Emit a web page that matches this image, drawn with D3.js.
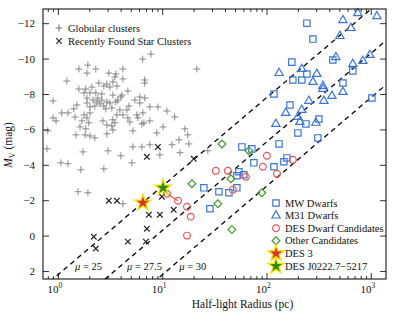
<!DOCTYPE html>
<html>
<head>
<meta charset="utf-8">
<script src="https://cdn.jsdelivr.net/npm/d3@7"></script>
<style>
  body { margin: 0; background: #fff; }
  svg { display: block; }
  text { font-family: "Liberation Serif", "DejaVu Serif", serif; fill: #111; }
</style>
</head>
<body>
<div id="chart"></div>
<script>
// [half-light radius (pc), M_V]
const globularClusters = [
  [6.5, -9.97], [7.8, -10.25], [21.5, -9.41], [1.59, -9.41], [1.94, -9.63], [2.31, -9.41], [1.90, -9.18],
  [1.22, -8.73], [3.08, -9.18], [3.60, -9.13], [4.20, -9.41], [3.52, -8.96], [4.20, -8.85], [6.8, -8.79],
  [6.8, -8.62], [2.47, -8.62], [2.76, -8.45], [3.15, -8.39], [3.68, -8.45], [2.95, -8.56], [3.37, -8.68],
  [1.59, -8.28], [1.85, -8.28], [2.12, -8.39], [1.78, -8.06], [2.03, -8.06], [4.69, -8.17], [4.11, -7.94],
  [3.37, -7.94], [2.31, -8.06], [2.64, -8.0], [2.42, -7.77], [2.17, -7.66], [2.37, -7.55], [2.64, -7.66],
  [2.53, -7.44], [2.76, -7.32], [2.26, -7.32], [2.95, -7.55], [3.15, -7.49], [3.29, -7.21], [2.88, -7.16],
  [1.90, -7.77], [1.90, -7.49], [2.03, -7.27], [0.90, -7.61], [1.52, -7.38], [1.42, -7.16], [1.25, -6.93],
  [1.09, -6.93], [1.46, -6.70], [1.78, -6.82], [2.03, -6.93], [1.90, -6.65], [1.70, -6.48], [1.98, -6.37],
  [0.90, -6.65], [0.96, -6.48], [0.80, -5.92], [1.63, -6.14], [1.49, -5.69], [1.82, -5.69], [2.03, -5.63],
  [2.26, -5.52], [2.70, -6.48], [2.95, -6.25], [3.29, -6.20], [3.52, -6.37], [3.37, -5.97], [2.95, -5.75],
  [3.37, -6.54], [4.20, -6.82], [4.59, -7.10], [4.80, -7.32], [3.93, -7.10], [3.68, -6.82], [3.76, -7.66],
  [4.02, -7.83], [3.60, -7.55], [4.69, -6.65], [4.90, -6.42], [5.72, -6.82], [5.85, -6.65], [6.53, -6.93],
  [6.11, -7.83], [6.82, -7.77], [5.47, -7.66], [6.11, -7.49], [6.68, -6.37], [6.39, -6.31], [7.62, -6.48],
  [7.62, -7.27], [9.10, -7.27], [11.1, -7.04], [13.2, -6.70], [8.89, -5.80], [10.2, -6.14], [16.5, -6.03],
  [17.6, -5.69], [14.5, -5.41], [18.0, -5.18], [12.4, -5.13], [5.24, -5.01], [6.39, -5.01], [7.62, -5.13],
  [9.51, -4.56], [14.8, -4.68], [0.785, -4.90], [1.74, -4.73], [3.02, -4.79], [4.02, -4.51], [5.24, -5.92],
  [27.4, -4.79], [1.07, -4.11], [1.25, -4.06], [1.66, -3.72], [2.76, -3.77], [5.12, -4.11], [1.56, -2.48],
  [1.94, -2.42], [4.20, -1.80], [1.85, -6.03]
];
const recentClusters = [
  [9.10, -5.01], [7.13, -4.45], [20.1, -4.34], [3.08, -1.97], [3.68, -1.97], [9.94, -2.20], [7.45, -1.18],
  [9.51, -1.18], [12.9, -1.46], [7.13, -0.39], [6.98, 0.34], [4.69, 0.34], [2.21, 0.06], [2.31, 0.73]
];
const mwDwarfs = [
  [244, -12.0], [279, -11.10], [175, -9.80], [433, -9.92], [673, -9.30], [541, -8.62], [179, -8.79],
  [218, -8.79], [244, -9.13], [118, -8.0], [168, -7.38], [318, -6.59], [239, -6.31], [200, -5.80],
  [1025, -7.77], [132, -5.18], [311, -5.52], [58.1, -5.01], [72.4, -4.90], [157, -4.39], [147, -4.17],
  [75.7, -4.11], [118, -3.89], [54.4, -3.61], [60.7, -3.44], [52.0, -3.38], [52.0, -2.70], [43.6, -2.42],
  [35.0, -2.48], [25.1, -2.70], [28.7, -1.52]
];
const m31Dwarfs = [
  [752, -12.56], [1145, -12.39], [541, -12.17], [645, -11.72], [506, -11.27], [463, -10.08], [673, -9.69],
  [840, -9.86], [980, -10.20], [132, -9.18], [218, -9.41], [304, -9.13], [279, -8.68], [348, -8.45],
  [348, -8.28], [424, -7.89], [541, -8.11], [255, -7.61], [355, -7.61], [218, -7.10], [153, -6.93],
  [200, -6.70], [209, -6.42], [298, -6.37], [123, -6.31]
];
const desCandidates = [
  [11.1, -2.37], [14.2, -1.97], [17.3, -1.63], [18.8, -1.07], [17.3, 0.0], [32.7, -3.66], [42.6, -3.66],
  [63.5, -3.32], [47.6, -2.59], [92.4, -3.89], [101, -4.51], [126, -3.49], [179, -4.28]
];
const candidateLink = [[11.1, -2.37], [14.2, -1.97]];
const otherCandidates = [
  [37.4, -5.18], [67.8, -4.79], [19.3, -2.93], [45.6, -3.21], [34.2, -1.80], [90.3, -2.42], [46.6, -0.34]
];
const des3 = [6.53, -1.86];
const desJ0222 = [10.2, -2.70];

const muLevels = [25, 27.5, 30];
const muZeroPoint = 22.785; // M_V = mu - zp - 5 log10(r_h)
const yTicks = [-12, -10, -8, -6, -4, -2, 0, 2];

const blue = "#3b76d6", red = "#e8545a", green = "#3f9a2a";

const margin = { top: 9, right: 9, bottom: 33, left: 43 };
const width = 395 - margin.left - margin.right;
const height = 312 - margin.top - margin.bottom;

const svgRoot = d3.select("#chart").append("svg")
  .attr("width", 395).attr("height", 312);
const svg = svgRoot.append("g")
  .attr("transform", `translate(${margin.left},${margin.top})`);

const x = d3.scaleLog().domain([0.72, 1400]).range([0, width]);
const y = d3.scaleLinear().domain([2.45, -12.8]).range([height, 0]);

svgRoot.append("defs").append("clipPath").attr("id", "plot-clip")
  .append("rect").attr("width", width).attr("height", height);

// constant surface brightness lines
const rDomain = x.domain();
muLevels.forEach(mu => {
  const pts = rDomain.map(r => [r, mu - muZeroPoint - 5 * Math.log10(r)]);
  svg.append("path")
    .attr("clip-path", "url(#plot-clip)")
    .attr("d", d3.line().x(d => x(d[0])).y(d => y(d[1]))(pts))
    .attr("fill", "none").attr("stroke", "#000")
    .attr("stroke-width", 1.3).attr("stroke-dasharray", "5,4");
  const rBottom = Math.pow(10, (mu - muZeroPoint - y.domain()[0]) / 5);
  const t = svg.append("text")
    .attr("x", x(rBottom) + 22).attr("y", height - 9)
    .attr("font-size", 10.5);
  t.append("tspan").attr("font-style", "italic").text("μ");
  t.append("tspan").text(` = ${mu}`);
});

const plusPath = "M-3.5,0H3.5M0,-3.5V3.5";
const crossPath = "M-2.8,-2.8L2.8,2.8M-2.8,2.8L2.8,-2.8";

function drawPaths(data, path, color, width, opacity) {
  svg.append("g").selectAll("path").data(data).join("path")
    .attr("transform", d => `translate(${x(d[0])},${y(d[1])})`)
    .attr("d", path).attr("fill", "none")
    .attr("stroke", color).attr("stroke-width", width)
    .attr("stroke-opacity", opacity);
}

function drawSymbols(data, type, size, color, rotate) {
  svg.append("g").selectAll("path").data(data).join("path")
    .attr("transform", d => `translate(${x(d[0])},${y(d[1])})` + (rotate ? ` rotate(${rotate})` : ""))
    .attr("d", d3.symbol().type(type).size(size))
    .attr("fill", "none").attr("stroke", color).attr("stroke-width", 1.2);
}

drawPaths(globularClusters, plusPath, "#777", 1, 0.85);
drawPaths(recentClusters, crossPath, "#222", 1.2, 1);

svg.append("path")
  .attr("d", d3.line().x(d => x(d[0])).y(d => y(d[1]))(candidateLink))
  .attr("stroke", red).attr("stroke-width", 1.2).attr("fill", "none");

drawSymbols(mwDwarfs, d3.symbolSquare, 40, blue);
drawSymbols(m31Dwarfs, d3.symbolTriangle, 30, blue);
drawSymbols(desCandidates, d3.symbolCircle, 36, red);
drawSymbols(otherCandidates, d3.symbolSquare, 30, green, 45);

function drawStar(d, color) {
  svg.append("path")
    .attr("transform", `translate(${x(d[0])},${y(d[1])})`)
    .attr("d", d3.symbol().type(d3.symbolStar).size(80))
    .attr("fill", color).attr("stroke", "#f5e000").attr("stroke-width", 1.3);
}
drawStar(des3, "#d8302a");
drawStar(desJ0222, "#2d8a12");

// axes with inward ticks
const xTickVals = x.ticks().filter(v => v >= x.domain()[0] && v <= x.domain()[1]);
const isMajor = v => Math.abs(Math.log10(v) - Math.round(Math.log10(v))) < 1e-6;

const xBottom = svg.append("g").attr("transform", `translate(0,${height})`)
  .call(d3.axisBottom(x).tickValues(xTickVals).tickFormat(""));
xBottom.selectAll(".tick line").attr("y2", d => isMajor(d) ? -6 : -3);
const xTop = svg.append("g")
  .call(d3.axisTop(x).tickValues(xTickVals).tickFormat(""));
xTop.selectAll(".tick line").attr("y2", d => isMajor(d) ? 6 : 3);

const yLeft = svg.append("g")
  .call(d3.axisLeft(y).tickValues(yTicks).tickSize(-6).tickPadding(8));
const yRight = svg.append("g").attr("transform", `translate(${width},0)`)
  .call(d3.axisRight(y).tickValues(yTicks).tickSize(-6).tickFormat(""));

[xBottom, xTop, yLeft, yRight].forEach(g => {
  g.select(".domain").remove();
  g.selectAll(".tick line").attr("stroke", "#000").attr("stroke-width", 0.8);
});
yLeft.selectAll(".tick text")
  .attr("font-family", "Liberation Serif, serif").attr("font-size", 11).attr("fill", "#111");

xTickVals.filter(isMajor).forEach(v => {
  const t = svg.append("text")
    .attr("x", x(v) - 3).attr("y", height + 14)
    .attr("text-anchor", "middle").attr("font-size", 11);
  t.append("tspan").text("10");
  t.append("tspan").attr("dy", -5).attr("font-size", 7.5).text(Math.round(Math.log10(v)));
});

svg.append("rect").attr("width", width).attr("height", height)
  .attr("fill", "none").attr("stroke", "#000").attr("stroke-width", 1);

// axis labels
const xl = svg.append("text")
  .attr("x", width / 2 + 28).attr("y", height + 29)
  .attr("text-anchor", "middle").attr("font-size", 11.5);
xl.text("Half-light Radius (pc)");

const yl = svg.append("text")
  .attr("transform", "rotate(-90)")
  .attr("x", -136).attr("y", -31)
  .attr("text-anchor", "middle").attr("font-size", 11.5);
yl.append("tspan").attr("font-style", "italic").text("M");
yl.append("tspan").attr("font-size", 8).attr("dy", 3).text("V");
yl.append("tspan").attr("dy", -3).text(" (mag)");

// top-left legend
const legendTop = [
  { label: "Globular clusters", path: plusPath, color: "#777" },
  { label: "Recently Found Star Clusters", path: crossPath, color: "#222" }
];
legendTop.forEach((d, i) => {
  const cy = 19 + i * 13;
  svg.append("path").attr("transform", `translate(16,${cy})`)
    .attr("d", d.path).attr("stroke", d.color).attr("stroke-width", 1.1).attr("fill", "none");
  svg.append("text").attr("x", 25).attr("y", cy + 3.5).attr("font-size", 10.5).text(d.label);
});

// bottom-right legend
const legendBottom = [
  { label: "MW Dwarfs", type: d3.symbolSquare, size: 40, color: blue },
  { label: "M31 Dwarfs", type: d3.symbolTriangle, size: 30, color: blue },
  { label: "DES Dwarf Candidates", type: d3.symbolCircle, size: 36, color: red },
  { label: "Other Candidates", type: d3.symbolSquare, size: 30, color: green, rotate: 45 },
  { label: "DES 3", star: "#d8302a" },
  { label: "DES J0222.7\u22125217", star: "#2d8a12" }
];
legendBottom.forEach((d, i) => {
  const cx = 233, cy = 194 + i * 12.6;
  if (d.star) {
    svg.append("path").attr("transform", `translate(${cx},${cy})`)
      .attr("d", d3.symbol().type(d3.symbolStar).size(80))
      .attr("fill", d.star).attr("stroke", "#f5e000").attr("stroke-width", 1.3);
  } else {
    svg.append("path").attr("transform", `translate(${cx},${cy})` + (d.rotate ? ` rotate(${d.rotate})` : ""))
      .attr("d", d3.symbol().type(d.type).size(d.size))
      .attr("fill", "none").attr("stroke", d.color).attr("stroke-width", 1.2);
  }
  svg.append("text").attr("x", cx + 9).attr("y", cy + 3.5).attr("font-size", 10.5).text(d.label);
});
</script>
</body>
</html>
